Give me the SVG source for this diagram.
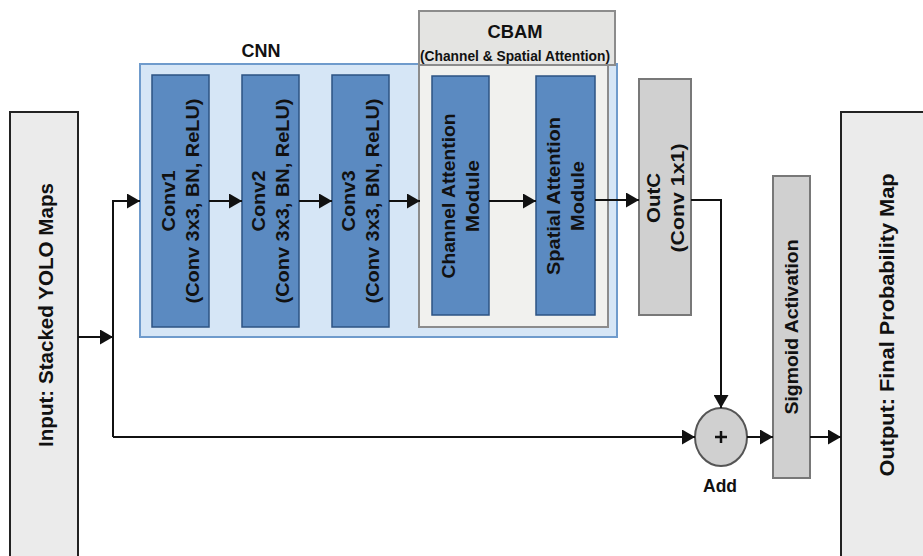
<svg xmlns="http://www.w3.org/2000/svg" width="923" height="556" viewBox="0 0 923 556">
<defs>
<style>
.t{font-family:"Liberation Sans",Arial,sans-serif;font-weight:bold;fill:#111;}
.r{text-anchor:middle;dominant-baseline:central;}
.h{text-anchor:middle;}
.io{fill:#ebebeb;stroke:#222;stroke-width:2;}
.blue{fill:#5b8ac1;stroke:#2d5383;stroke-width:1.5;}
.gray{fill:#d0d0d0;stroke:#787878;stroke-width:2;}
.c{fill:none;stroke:#111;stroke-width:2;}
</style>
<marker id="ah" markerUnits="userSpaceOnUse" markerWidth="14" markerHeight="15" refX="13" refY="7.5" orient="auto">
<path d="M0,0 L13,7.5 L0,15 z" fill="#111"/>
</marker>
</defs>
<rect width="923" height="556" fill="#fff"/>

<g id="input">
<rect class="io" x="10" y="112" width="68" height="460"/>
<text class="t r" font-size="21" transform="translate(45,315) rotate(-90)" textLength="264" lengthAdjust="spacingAndGlyphs">Input: Stacked YOLO Maps</text>
</g>

<g id="cnn">
<rect x="140" y="64" width="477" height="273" fill="#d6e6f6" stroke="#6f9bcc" stroke-width="2"/>
<text class="t h" font-size="18" x="261" y="57">CNN</text>
</g>

<g id="cbam">
<rect x="419" y="11" width="196" height="54" fill="#e4e4e2" stroke="#8c8c8c" stroke-width="2"/>
<rect x="419" y="65" width="189" height="262" fill="#f1f1ee" stroke="#8c8c8c" stroke-width="2"/>
<text class="t h" font-size="18" x="515" y="38" textLength="55" lengthAdjust="spacingAndGlyphs">CBAM</text>
<text class="t h" font-size="15" x="515" y="61" textLength="190" lengthAdjust="spacingAndGlyphs">(Channel &amp; Spatial Attention)</text>
</g>

<g id="conv1">
<rect class="blue" x="152" y="75" width="57" height="252"/>
<g transform="translate(180.5,201) rotate(-90)">
<text class="t r" font-size="19" y="-12" textLength="61" lengthAdjust="spacingAndGlyphs">Conv1</text>
<text class="t r" font-size="19" y="12" textLength="205" lengthAdjust="spacingAndGlyphs">(Conv 3x3, BN, ReLU)</text>
</g>
</g>

<g id="conv2">
<rect class="blue" x="242" y="75" width="57" height="252"/>
<g transform="translate(270.5,201) rotate(-90)">
<text class="t r" font-size="19" y="-12" textLength="61" lengthAdjust="spacingAndGlyphs">Conv2</text>
<text class="t r" font-size="19" y="12" textLength="205" lengthAdjust="spacingAndGlyphs">(Conv 3x3, BN, ReLU)</text>
</g>
</g>

<g id="conv3">
<rect class="blue" x="332" y="75" width="57" height="252"/>
<g transform="translate(360.5,201) rotate(-90)">
<text class="t r" font-size="19" y="-12" textLength="61" lengthAdjust="spacingAndGlyphs">Conv3</text>
<text class="t r" font-size="19" y="12" textLength="205" lengthAdjust="spacingAndGlyphs">(Conv 3x3, BN, ReLU)</text>
</g>
</g>

<g id="channel">
<rect class="blue" x="432" y="76" width="57" height="239"/>
<g transform="translate(460.5,196) rotate(-90)">
<text class="t r" font-size="18" y="-12" textLength="165" lengthAdjust="spacingAndGlyphs">Channel Attention</text>
<text class="t r" font-size="18" y="12" textLength="72" lengthAdjust="spacingAndGlyphs">Module</text>
</g>
</g>

<g id="spatial">
<rect class="blue" x="536" y="76" width="59" height="239"/>
<g transform="translate(565.5,196) rotate(-90)">
<text class="t r" font-size="18" y="-12" textLength="158" lengthAdjust="spacingAndGlyphs">Spatial Attention</text>
<text class="t r" font-size="18" y="12" textLength="70" lengthAdjust="spacingAndGlyphs">Module</text>
</g>
</g>

<g id="outc">
<rect class="gray" x="639" y="79" width="52" height="236"/>
<g transform="translate(665,198) rotate(-90)">
<text class="t r" font-size="19" y="-12" textLength="50" lengthAdjust="spacingAndGlyphs">OutC</text>
<text class="t r" font-size="19" y="12" textLength="109" lengthAdjust="spacingAndGlyphs">(Conv 1x1)</text>
</g>
</g>

<g id="add">
<ellipse cx="721" cy="437" rx="26" ry="29" fill="#d0d0d0" stroke="#555" stroke-width="2"/>
<path d="M715,437 H727 M721,431 V443" stroke="#111" stroke-width="2.5"/>
<text class="t h" font-size="17.5" x="720" y="492" textLength="34" lengthAdjust="spacingAndGlyphs">Add</text>
</g>

<g id="sigmoid">
<rect class="gray" x="773" y="176" width="37" height="302"/>
<text class="t r" font-size="18" transform="translate(792,327) rotate(-90)" textLength="175" lengthAdjust="spacingAndGlyphs">Sigmoid Activation</text>
</g>

<g id="output">
<rect class="io" x="841" y="112" width="100" height="460"/>
<text class="t r" font-size="21" transform="translate(886,325) rotate(-90)" textLength="303" lengthAdjust="spacingAndGlyphs">Output: Final Probability Map</text>
</g>

<g id="connectors">
<path class="c" d="M78,337 H113" marker-end="url(#ah)"/>
<path class="c" d="M113,437 V201 H140" marker-end="url(#ah)"/>
<path class="c" d="M113,437 H695" marker-end="url(#ah)"/>
<path class="c" d="M209,201 H242" marker-end="url(#ah)"/>
<path class="c" d="M299,201 H332" marker-end="url(#ah)"/>
<path class="c" d="M389,201 H420" marker-end="url(#ah)"/>
<path class="c" d="M489,201 H536" marker-end="url(#ah)"/>
<path class="c" d="M595,200 H639" marker-end="url(#ah)"/>
<path class="c" d="M691,200 H721 V408" marker-end="url(#ah)"/>
<path class="c" d="M747,437 H773" marker-end="url(#ah)"/>
<path class="c" d="M810,437 H841" marker-end="url(#ah)"/>
</g>
</svg>
